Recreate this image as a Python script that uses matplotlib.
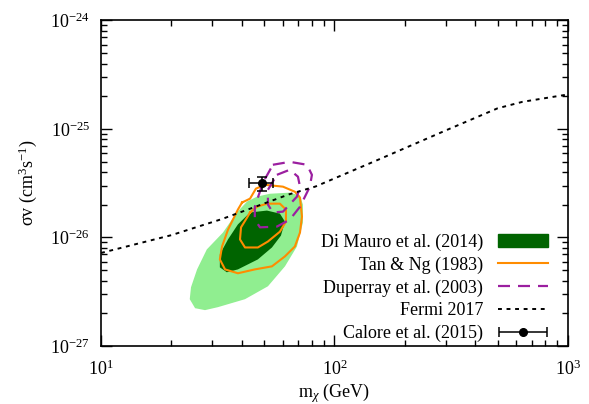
import numpy as np
import matplotlib
matplotlib.use("Agg")
import matplotlib.pyplot as plt
from matplotlib.patches import Patch
from matplotlib.lines import Line2D
from matplotlib.container import ErrorbarContainer
from matplotlib.legend_handler import HandlerErrorbar
from matplotlib.ticker import FixedLocator, LogLocator, NullFormatter

plt.rcParams['font.family'] = ['Liberation Serif', 'DejaVu Serif']
plt.rcParams['mathtext.fontset'] = 'custom'
plt.rcParams['mathtext.rm'] = 'Liberation Serif'
plt.rcParams['mathtext.it'] = 'Liberation Serif:italic'

# Fermi 2017 limit (mass in GeV, sigma v in cm^3/s)
fermi_m = [10, 20, 33, 64, 83, 157, 300, 500, 640, 1000]
fermi_sv = [7.2e-27, 1.05e-26, 1.48e-26, 2.5e-26, 2.95e-26, 5.3e-26, 9.7e-26, 1.55e-25, 1.78e-25, 2.08e-25]

# Calore et al. (2015) best fit point
calore_m = 49.0
calore_m_lo, calore_m_hi = 43.0, 54.6
calore_sv = 3.15e-26
calore_sv_lo, calore_sv_hi = 2.7e-26, 3.6e-26

# Di Mauro et al. (2014) regions, sigma v in units of 1e-26
dimauro_outer_m = [42.2, 46.6, 52.9, 64.4, 71.2, 73.3, 73.3, 69.1, 61.4, 51.9, 41.4, 31.7, 27.9, 25.3, 24.0, 24.3, 25.8, 28.4, 33.3, 38.2]
dimauro_outer_sv = [2.14, 2.38, 2.53, 2.59, 2.43, 2.01, 1.37, 0.826, 0.542, 0.355, 0.270, 0.228, 0.214, 0.223, 0.270, 0.348, 0.508, 0.776, 1.11, 1.70]
dimauro_inner_m = [43.5, 51.4, 58.4, 61.4, 59.0, 54.0, 47.0, 38.6, 34.6, 32.3, 32.3, 35.0, 38.6]
dimauro_inner_sv = [1.70, 1.77, 1.66, 1.40, 1.04, 0.809, 0.628, 0.508, 0.478, 0.531, 0.698, 0.96, 1.32]

# Tan & Ng (1983) contours
tan_outer_m = [40.2, 43.5, 46.1, 50.4, 60.2, 67.7, 71.2, 72.6, 71.2, 67.7, 61.4, 54.0, 45.6, 38.6, 34.0, 32.3, 33.0, 35.0, 38.6]
tan_outer_sv = [2.10, 2.28, 2.82, 3.06, 2.94, 2.64, 2.33, 1.56, 1.11, 0.826, 0.670, 0.542, 0.508, 0.468, 0.508, 0.628, 0.826, 1.18, 1.81]
tan_inner_m = [43.5, 46.6, 51.4, 58.4, 62.0, 62.0, 58.4, 51.9, 47.0, 41.4, 39.4, 39.8, 42.2]
tan_inner_sv = [1.70, 1.92, 2.05, 2.05, 1.81, 1.40, 1.13, 0.918, 0.809, 0.809, 0.96, 1.24, 1.52]

# Duperray et al. (2003) contours
dup_outer_m = [54.5, 64.4, 76.3, 80.1, 78.5, 71.2, 64.4, 56.7, 48.0, 45.6, 45.6, 49.4]
dup_outer_sv = [4.68, 4.98, 4.68, 3.78, 2.94, 1.92, 1.46, 1.26, 1.24, 1.46, 1.92, 3.20]
dup_inner_m = [56.7, 64.4, 69.8, 71.2, 69.1, 60.2, 54.5, 51.9, 51.9]
dup_inner_sv = [3.78, 4.21, 3.63, 2.94, 2.38, 1.73, 1.70, 2.01, 2.75]

x_ticks = [10, 100, 1000]
y_ticks = [1e-27, 1e-26, 1e-25, 1e-24]

dark_green = '#006400'
light_green = '#90ee90'
orange = '#ff8c00'
purple = '#9b1fa0'


def closed(m, sv):
    m = list(m) + [m[0]]
    sv = [v * 1e-26 for v in list(sv) + [sv[0]]]
    return m, sv


fig = plt.figure(figsize=(5.89, 4.04), dpi=100)
ax = fig.add_axes([0.1715, 0.1436, 0.7925, 0.8057])

m, sv = closed(dimauro_outer_m, dimauro_outer_sv)
ax.fill(m, sv, color=light_green, lw=0, zorder=1)
m, sv = closed(dimauro_inner_m, dimauro_inner_sv)
ax.fill(m, sv, color=dark_green, lw=0, zorder=2)

for mm, ss in [(tan_outer_m, tan_outer_sv), (tan_inner_m, tan_inner_sv)]:
    m, sv = closed(mm, ss)
    ax.plot(m, sv, color=orange, lw=1.5, zorder=3)

for mm, ss in [(dup_outer_m, dup_outer_sv), (dup_inner_m, dup_inner_sv)]:
    m, sv = closed(mm, ss)
    ax.plot(m, sv, color=purple, lw=1.6, dashes=(5.4, 3.6), zorder=4)

ax.plot(fermi_m, fermi_sv, color='black', lw=1.4, dashes=(2, 2.4), zorder=5)

ax.errorbar([calore_m], [calore_sv],
            xerr=[[calore_m - calore_m_lo], [calore_m_hi - calore_m]],
            yerr=[[calore_sv - calore_sv_lo], [calore_sv_hi - calore_sv]],
            fmt='o', color='black', ms=5.5, lw=1.1, capsize=3.5, capthick=1.1, zorder=6)

ax.set_xscale('log')
ax.set_yscale('log')
ax.set_xlim(10, 1000)
ax.set_ylim(1e-27, 1e-24)

ax.xaxis.set_major_locator(FixedLocator(x_ticks))
ax.yaxis.set_major_locator(FixedLocator(y_ticks))
for axis in [ax.xaxis, ax.yaxis]:
    axis.set_minor_locator(LogLocator(base=10, subs=np.arange(2, 10), numticks=10))
    axis.set_minor_formatter(NullFormatter())
ax.tick_params(which='both', direction='in', top=True, right=True, labelsize=13)
ax.tick_params(axis='x', which='major', pad=10)
ax.tick_params(axis='y', which='major', pad=8)
ax.tick_params(which='major', length=8, width=1)
ax.tick_params(which='minor', length=4.5, width=1)
for sp in ax.spines.values():
    sp.set_linewidth(1.2)

ax.set_xlabel(r'm$_\chi$ (GeV)', fontsize=13, labelpad=1)
ax.set_ylabel(r'σv (cm$^3$s$^{-1}$)', fontsize=13, labelpad=8)

calore_handle = ax.errorbar([np.nan], [np.nan], xerr=[[1.0], [1.0]], fmt='o', color='black',
                            ms=5.5, lw=1.1, capsize=3.5, capthick=1.1)
handles = [
    Patch(facecolor=dark_green, edgecolor=dark_green),
    Line2D([], [], color=orange, lw=1.5),
    Line2D([], [], color=purple, lw=1.6, dashes=(5.4, 3.6)),
    Line2D([], [], color='black', lw=1.4, dashes=(2, 2.4)),
    calore_handle,
]
labels = ['Di Mauro et al. (2014)', 'Tan & Ng (1983)', 'Duperray et al. (2003)',
          'Fermi 2017', 'Calore et al. (2015)']
ax.legend(handles, labels, loc='lower right', bbox_to_anchor=(0.958, 0.012),
          frameon=False, markerfirst=False, fontsize=13, handlelength=2.8,
          handletextpad=0.8, labelspacing=0.31, borderpad=0, borderaxespad=0,
          handler_map={ErrorbarContainer: HandlerErrorbar(xerr_size=1.35)})

fig.savefig('out.png', dpi=100)
